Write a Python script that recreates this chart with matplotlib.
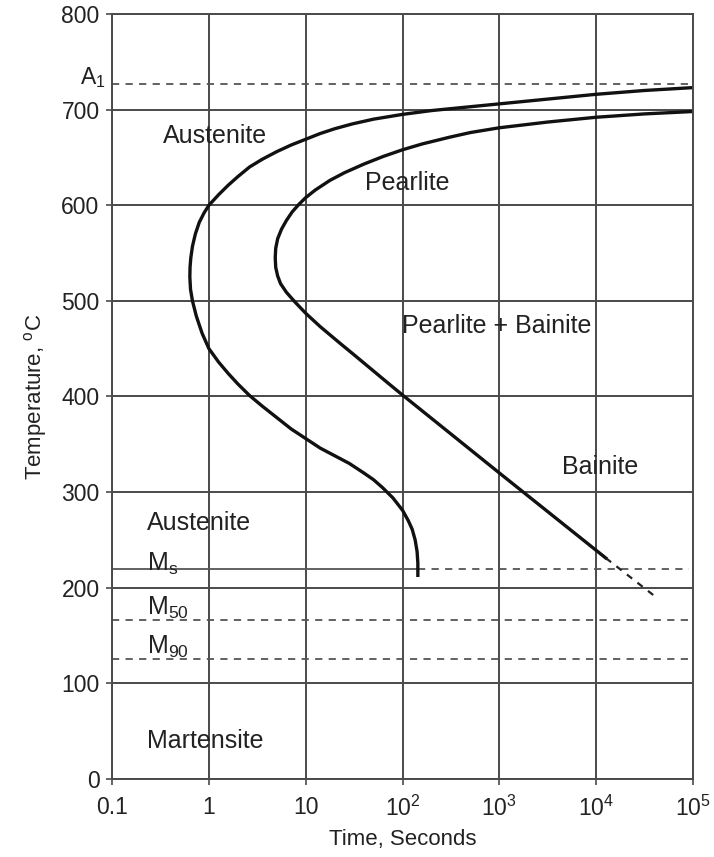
import numpy as np
import matplotlib
matplotlib.use("Agg")
import matplotlib.pyplot as plt
import matplotlib.transforms as mtransforms

plt.rcParams['font.family'] = ['Liberation Sans', 'DejaVu Sans']
plt.rcParams['mathtext.fontset'] = 'custom'
plt.rcParams['mathtext.rm'] = 'Liberation Sans'

# start of transformation: log10(time, s) and temperature (C)
start_logt = [5.0, 4.5, 4.0, 3.5, 3.0, 2.7, 2.3, 2.0, 1.7, 1.48, 1.3, 1.15, 1.0, 0.85,
              0.7, 0.55, 0.42, 0.3, 0.2, 0.1, 0.0, -0.05, -0.1, -0.14, -0.17, -0.187,
              -0.195, -0.197, -0.19, -0.17, -0.13, -0.07, 0.0, 0.1, 0.2, 0.3, 0.42,
              0.55, 0.7, 0.85, 1.0, 1.15, 1.3, 1.45, 1.6, 1.7, 1.79, 1.9, 2.0, 2.06,
              2.1, 2.13, 2.15, 2.158, 2.158]
start_T = [723, 720, 716, 711, 706, 703, 699, 695, 690, 685, 680, 675, 669, 663,
           656, 648, 640, 630, 621, 611, 600, 592, 582, 570, 557, 545,
           535, 525, 512, 500, 484, 466, 450, 436, 424, 413, 401,
           390, 378, 366, 356, 346, 338, 330, 320, 313, 305, 294, 281, 270,
           261, 250, 238, 226, 213]

# end of transformation
finish_logt = [5.0, 4.5, 4.0, 3.5, 3.0, 2.7, 2.48, 2.2, 2.0, 1.8, 1.6, 1.4, 1.25, 1.1,
               1.0, 0.93, 0.86, 0.8, 0.75, 0.71, 0.69, 0.685, 0.69, 0.71, 0.74, 0.8,
               0.887, 1.0, 1.15, 1.35, 1.5, 1.69, 1.85, 2.0, 3.0, 4.1]
finish_T = [698, 695.5, 692, 687, 681, 676, 671, 664, 658, 651, 643, 634, 626, 616,
            608, 601, 593, 584, 575, 565, 555, 545, 535, 526, 518, 509,
            499, 487, 473, 456, 443.5, 427.5, 414, 401.5, 320, 231]
finish_ext_logt = [4.1, 4.62]
finish_ext_T = [231, 190]

# critical temperatures
A1 = 727
Ms = 220
M50 = 166
M90 = 126

xticks = [0.1, 1, 10, 100, 1e3, 1e4, 1e5]
xticklabels = ['0.1', '1', '10', r'$\mathregular{10^2}$', r'$\mathregular{10^3}$',
               r'$\mathregular{10^4}$', r'$\mathregular{10^5}$']
yticks = [0, 100, 200, 300, 400, 500, 600, 700, 800]

fig = plt.figure(figsize=(7.14, 8.57), dpi=100)
ax = fig.add_axes([0.157, 0.091, 0.8136, 0.8927])
ax.set_xscale('log')
ax.set_xlim(0.1, 1e5)
ax.set_ylim(0, 800)

grid_c = '#4a4a4a'
ax.set_xticks(xticks)
ax.set_xticklabels(xticklabels)
ax.set_yticks(yticks)
ax.xaxis.set_minor_locator(matplotlib.ticker.NullLocator())
ax.tick_params(axis='both', labelsize=16.5, length=4, width=1.2, color=grid_c,
               labelcolor='#222222')
ax.tick_params(axis='y', pad=5)
ax.tick_params(axis='x', pad=8)
ax.grid(True, color=grid_c, lw=1.4)
ax.set_axisbelow(True)
for s in ax.spines.values():
    s.set_color(grid_c)
    s.set_linewidth(1.4)

# critical temperature lines
dash_c = '#555555'
ms_end = 10 ** start_logt[-1]
ax.plot([0.1, 1e5], [A1, A1], ls=(0, (4, 3.5)), color=dash_c, lw=1.3)
ax.plot([0.1, ms_end], [Ms, Ms], color=dash_c, lw=1.3)
ax.plot([ms_end, 9e4], [Ms, Ms], ls=(0, (4, 3.5)), color=dash_c, lw=1.3)
ax.plot([0.1, 1e5], [M50, M50], ls=(0, (4, 3.5)), color=dash_c, lw=1.3)
ax.plot([0.1, 1e5], [M90, M90], ls=(0, (4, 3.5)), color=dash_c, lw=1.3)

# transformation curves
ax.plot(10 ** np.array(start_logt), start_T, color='#111111', lw=2.4,
        solid_joinstyle='round')
ax.plot(10 ** np.array(finish_logt), finish_T, color='#111111', lw=2.4,
        solid_joinstyle='round')
ax.plot(10 ** np.array(finish_ext_logt), finish_ext_T, color='#222222', lw=1.6,
        ls=(0, (3, 3)))

# region labels
lab = dict(fontsize=18, color='#222222')
ax.text(1.15, 672, 'Austenite', ha='center', va='center', **lab)
ax.text(112, 623, 'Pearlite', ha='center', va='center', **lab)
ax.text(933, 474, 'Pearlite + Bainite', ha='center', va='center', **lab)
ax.text(11000, 326, 'Bainite', ha='center', va='center', **lab)
ax.text(0.23, 268, 'Austenite', ha='left', va='center', **lab)
ax.text(0.23, 40, 'Martensite', ha='left', va='center', **lab)
ax.text(0.23, Ms - 2, r'M$_\mathregular{s}$', ha='left', va='baseline', **lab)
ax.text(0.23, 172, r'M$_\mathregular{50}$', ha='left', va='baseline', **lab)
ax.text(0.23, 131, r'M$_\mathregular{90}$', ha='left', va='baseline', **lab)

trans = mtransforms.blended_transform_factory(ax.transAxes, ax.transData)
ax.text(-0.012, A1, r'A$_\mathregular{1}$', transform=trans, ha='right', va='baseline',
        fontsize=16.5, color='#222222')

ax.set_xlabel('Time, Seconds', fontsize=16, color='#222222', labelpad=6)
ax.set_ylabel(r'Temperature, $^\mathregular{o}$C', fontsize=16, color='#222222', labelpad=9)

fig.savefig('out.png', dpi=100)
